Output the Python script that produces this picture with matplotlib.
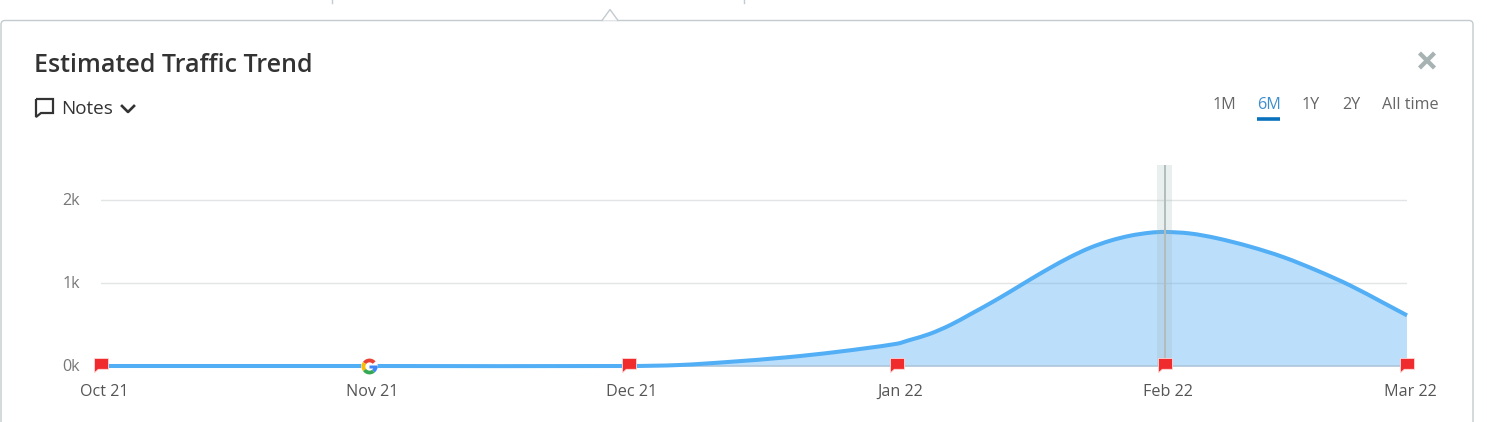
import matplotlib
matplotlib.use("Agg")
import matplotlib.pyplot as plt
from matplotlib.patches import FancyBboxPatch, PathPatch
from matplotlib.path import Path
from matplotlib.transforms import Affine2D, ScaledTranslation

plt.rcParams['font.family'] = ['Open Sans', 'DejaVu Sans']

# days since 1 Oct 21
curve_days = [0, 31, 61, 66.9, 72.7, 79.3, 85.1, 92, 93.5, 95.8, 98.2, 100.5, 102.8, 105.1, 107.4,
              109.7, 112, 114.3, 116.7, 119, 121.3, 123, 125.9, 129, 132.8, 136.7, 140.6, 144.4, 148.2, 151]
curve_traffic = [0, 0, 0, 12, 50, 105, 170, 268, 313, 386, 494, 623, 755, 895, 1040,
                 1180, 1310, 1422, 1510, 1570, 1606, 1615, 1597, 1540, 1440, 1312, 1150, 972, 765, 610]

month_days = [0, 31, 61, 92, 123, 151]
month_labels = ["Oct 21", "Nov 21", "Dec 21", "Jan 22", "Feb 22", "Mar 22"]
y_ticks = [0, 1000, 2000]
y_labels = ["0k", "1k", "2k"]
flag_days = [0, 61, 92, 123, 151]
google_day = 31
selected_day = 123
range_labels = ["1M", "6M", "1Y", "2Y", "All time"]
range_left = [1213, 1257, 1302, 1342, 1382]


def spline_path(xs, ys):
    # bezier segments through the read points, like the chart's spline line
    n = len(xs)
    slopes = [0.0] * n
    for i in range(1, n - 1):
        slopes[i] = (ys[i + 1] - ys[i - 1]) / (xs[i + 1] - xs[i - 1])
    slopes[0] = (ys[1] - ys[0]) / (xs[1] - xs[0])
    slopes[-1] = (ys[-1] - ys[-2]) / (xs[-1] - xs[-2])
    verts = [(xs[0], ys[0])]
    codes = [Path.MOVETO]
    for i in range(n - 1):
        h = xs[i + 1] - xs[i]
        verts.append((xs[i] + h / 3, ys[i] + slopes[i] * h / 3))
        verts.append((xs[i + 1] - h / 3, ys[i + 1] - slopes[i + 1] * h / 3))
        verts.append((xs[i + 1], ys[i + 1]))
        codes += [Path.CURVE4] * 3
    return verts, codes


W, H = 1487, 422
fig = plt.figure(figsize=(W / 100, H / 100), dpi=100)

# page layer in pixel coords
bg = fig.add_axes([0, 0, 1, 1])
bg.set_xlim(0, W)
bg.set_ylim(H, 0)
bg.axis("off")

border = "#c3cbcf"
bg.add_patch(FancyBboxPatch((1, 20.5), 1472, 440, boxstyle="round,pad=0,rounding_size=4",
                            fc="white", ec=border, lw=1))
bg.add_patch(PathPatch(Path([(602, 20.5), (610, 9.5), (618, 20.5)]), fc="white", ec="none", zorder=3))
bg.plot([602, 610, 618], [20.5, 9.5, 20.5], color=border, lw=1, zorder=4)
bg.plot([331.5, 331.5], [0, 3], color=border, lw=1)
bg.plot([743.5, 743.5], [0, 3], color=border, lw=1)

dark = "#333333"
bg.text(34, 63, "Estimated Traffic Trend", fontsize=18, fontweight=600, color=dark, va="center_baseline")
bg.text(61, 107.5, "Notes", fontsize=13.6, color=dark, va="center_baseline")

# notes icon and chevron
bubble = Path([(36, 99), (53, 99), (53, 113), (41, 113), (36, 117), (36, 99)])
bg.add_patch(PathPatch(bubble, fc="none", ec=dark, lw=1.6, joinstyle="miter"))
bg.plot([122, 128, 134], [106, 112, 106], color=dark, lw=1.9)

# close cross
bg.plot([1419.5, 1434.5], [53, 68], color="#a7b3b3", lw=3.1, solid_capstyle="butt")
bg.plot([1419.5, 1434.5], [68, 53], color="#a7b3b3", lw=3.1, solid_capstyle="butt")

for label, left in zip(range_labels, range_left):
    col = "#3f8fce" if label == "6M" else "#666666"
    bg.text(left, 103, label, fontsize=11.6, color=col, va="center_baseline")
bg.plot([1257, 1280], [118.5, 118.5], color="#0a72bd", lw=2.6, solid_capstyle="butt")

# chart layer
left, right, top, bottom = 101, 1407, 165, 366
ax = fig.add_axes([left / W, 1 - bottom / H, (right - left) / W, (bottom - top) / H])
ax.patch.set_alpha(0)
ax.set_xlim(0, 151)
ax.set_ylim(0, (bottom - top) / 83 * 1000)
for s in ax.spines.values():
    s.set_visible(False)

ax.set_yticks(y_ticks)
ax.set_yticklabels(y_labels)
ax.set_xticks(month_days)
ax.set_xticklabels(month_labels)
ax.tick_params(axis="y", length=0, pad=15, labelsize=11.6, labelcolor="#777777")
ax.tick_params(axis="x", length=0, pad=12.6, labelsize=11.6, labelcolor="#555555")
for lab in ax.get_xticklabels():
    lab.set_transform(lab.get_transform() + ScaledTranslation(3 / 100, 0, fig.dpi_scale_trans))
for lab in ax.get_yticklabels():
    lab.set_transform(lab.get_transform() + ScaledTranslation(0, 1 / 100, fig.dpi_scale_trans))
ax.grid(axis="y", color="#e1e5e5", lw=1)
ax.set_axisbelow(True)

line_verts, line_codes = spline_path(curve_days, curve_traffic)
fill_verts = line_verts + [(curve_days[-1], 0), (curve_days[0], 0), (curve_days[0], 0)]
fill_codes = line_codes + [Path.LINETO, Path.LINETO, Path.CLOSEPOLY]
ax.add_patch(PathPatch(Path(fill_verts, fill_codes), fc="#55aef5", ec="none", alpha=0.4, zorder=2))
ax.axhline(0, color="#aec6da", lw=1.2, zorder=2.5, clip_on=False)
ax.add_patch(PathPatch(Path(line_verts, line_codes), fc="none", ec="#52aef5", lw=2.9, zorder=3, clip_on=False))

ax.axvspan(selected_day - 0.87, selected_day + 0.87, color="#9fb3b3", alpha=0.22, lw=0, zorder=4)
ax.axvline(selected_day, color="#b3bcbc", lw=1.4, zorder=4)

# note flags sit on the axis
flag = Path([(-1, -1.15), (1, -1.15), (1, 0.4), (-0.45, 0.4), (-1, 0.9), (-1, -1.15)])
flag = flag.transformed(Affine2D().scale(1, -1))
ax.plot(flag_days, [0] * len(flag_days), ls="none", marker=flag, ms=11.6, mfc="#ef2b2d",
        mec="#ffd9d9", mew=0.6, clip_on=False, zorder=6)

# google mark: white disc, coloured wedges, white middle, blue bar
g_parts = [((-50, 0), "#4285f4"), ((40, 145), "#ea4335"), ((145, 215), "#fbbc05"), ((215, 310), "#34a853")]
ax.plot([google_day], [0], ls="none", marker="o", ms=12, mfc="white", mec="none", clip_on=False, zorder=6)
for (a, b), col in g_parts:
    ax.plot([google_day], [0], ls="none", marker=Path.wedge(a, b), ms=11.5, mfc=col, mec="none",
            clip_on=False, zorder=6)
ax.plot([google_day], [0], ls="none", marker="o", ms=6, mfc="white", mec="none", clip_on=False, zorder=7)
bar = Path([(0, -0.2), (1, -0.2), (1, 0.08), (0, 0.08), (0, -0.2)])
ax.plot([google_day], [0], ls="none", marker=bar, ms=11, mfc="#4285f4", mec="none", clip_on=False, zorder=8)

fig.savefig("out.png", dpi=100)
